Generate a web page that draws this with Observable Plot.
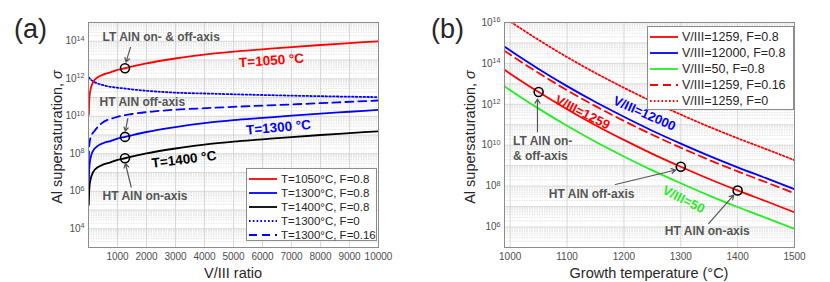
<!DOCTYPE html>
<html><head><meta charset="utf-8">
<script src="https://cdn.jsdelivr.net/npm/d3@7"></script>
<script src="https://cdn.jsdelivr.net/npm/@observablehq/plot@0.6"></script>
<style>
body{margin:0;background:#fff;font-family:"Liberation Sans",Arial,sans-serif;}
#wrap{position:relative;width:830px;height:282px;overflow:hidden;}
#wrap svg{position:absolute;top:0;}
.plabel{position:absolute;font-size:27px;line-height:27px;color:#262626;}
.xlab{position:absolute;font-size:14.5px;line-height:16px;color:#262626;text-align:center;white-space:nowrap;}
.ylab{position:absolute;font-size:14.5px;line-height:16px;color:#262626;white-space:nowrap;transform:translate(-50%,-50%) rotate(-90deg);}
.legend{position:absolute;background:#fff;border:1px solid #8c8c8c;color:#262626;box-sizing:border-box;}
.lrow{position:absolute;left:0;white-space:nowrap;display:flex;align-items:center;}
.lrow svg{position:static !important;}
</style></head>
<body><div id="wrap"></div>
<script>
// ---------- Panel (a): sigma vs V/III ratio (values are log10 sigma) ----------
const ratioA = [10, 25, 50, 90, 150, 320, 500, 780, 1000, 1259, 2000, 3000, 4200, 5000, 6000, 7000, 8000, 9000, 10000];
const logSigmaT1050 = [10.08, 10.84, 11.25, 11.55, 11.8, 12.08, 12.22, 12.35, 12.47, 12.56, 12.82, 13.08, 13.33, 13.45, 13.57, 13.69, 13.8, 13.9, 14.0];
const logSigmaT1300 = [6.42, 7.18, 7.59, 7.89, 8.14, 8.42, 8.56, 8.69, 8.81, 8.9, 9.16, 9.42, 9.67, 9.79, 9.91, 10.03, 10.14, 10.24, 10.34];
const logSigmaT1400 = [5.28, 6.04, 6.45, 6.75, 7.0, 7.28, 7.42, 7.55, 7.67, 7.76, 8.02, 8.28, 8.53, 8.65, 8.77, 8.89, 9.0, 9.1, 9.2];
const ratioF016 = [5, 30, 80, 200, 450, 900, 1500, 2200, 4300, 7000, 10000];
const logSigmaT1300F016 = [7.7, 8.5, 8.9, 9.2, 9.62, 9.92, 10.12, 10.25, 10.45, 10.63, 10.84];
const ratioF0 = [10, 100, 210, 550, 1240, 2720, 4340, 7000, 10000];
const logSigmaT1300F0 = [12.07, 11.93, 11.82, 11.64, 11.48, 11.28, 11.2, 11.1, 11.02];
const xTicksA = [1000, 2000, 3000, 4000, 5000, 6000, 7000, 8000, 9000, 10000];
const yTicksA = [1e4, 1e6, 1e8, 1e10, 1e12, 1e14];
const circleRatioA = [1259, 1259, 1259];
const circleLogA = [12.56, 8.9, 7.76];
const legendLabelsA = ["T=1050°C, F=0.8", "T=1300°C, F=0.8", "T=1400°C, F=0.8", "T=1300°C, F=0", "T=1300°C, F=0.16"];
const legendColorsA = ["#ff0000", "#0000ff", "#000000", "#0000ff", "#0000ff"];
const legendDashA = [null, null, null, "1.6 2.2", "8 5"];
// annotations (data coordinates)
const noteTextA = ["LT AlN on- & off-axis", "HT AlN off-axis", "HT AlN on-axis"];
const noteRatioA = [483, 380, 483];
const noteLogA = [14.2, 10.73, 5.72];
const tempTextA = ["T=1050 °C", "T=1300 °C", "T=1400 °C"];
const tempColorA = ["#ff0000", "#0000ff", "#000000"];
const tempRatioA = [6310, 6550, 3293];
const tempLogA = [12.97, 9.4, 7.69];
const tempRotA = [-4, -5, -7];
const arrowA = {r1: [1448, 1355, 1472], l1: [13.67, 9.88, 6.22], r2: [1293, 1272, 1272], l2: [12.89, 9.21, 7.48]};

// ---------- Panel (b): sigma vs growth temperature ----------
const tempB = [990, 1000, 1050, 1100, 1150, 1200, 1250, 1300, 1350, 1400, 1450, 1500];
const logSigma1259 = [13.69, 13.5, 12.6, 11.76, 10.98, 10.26, 9.58, 8.95, 8.35, 7.79, 7.26, 6.72];
const logSigma12000 = [14.82, 14.63, 13.73, 12.89, 12.11, 11.39, 10.71, 10.08, 9.48, 8.92, 8.39, 7.85];
const logSigma50 = [12.88, 12.69, 11.79, 10.95, 10.17, 9.45, 8.77, 8.14, 7.54, 6.98, 6.45, 5.91];
const logSigma1259F016 = [14.62, 14.43, 13.53, 12.69, 11.91, 11.19, 10.51, 9.88, 9.28, 8.72, 8.19, 7.65];
const logSigma1259F0 = [16.24, 16.05, 15.15, 14.31, 13.53, 12.81, 12.13, 11.5, 10.9, 10.34, 9.81, 9.27];
const xTicksB = [1000, 1100, 1200, 1300, 1400, 1500];
const yTicksB = [1e6, 1e8, 1e10, 1e12, 1e14, 1e16];
const circleTempB = [1050, 1300, 1400];
const circleLogB = [12.6, 8.95, 7.79];
const legendLabelsB = ["V/III=1259, F=0.8", "V/III=12000, F=0.8", "V/III=50, F=0.8", "V/III=1259, F=0.16", "V/III=1259, F=0"];
const legendColorsB = ["#ff0000", "#0000ff", "#22ee22", "#ff0000", "#ff0000"];
const legendDashB = [null, null, null, "8 5", "1.6 2.2"];
const noteTextB = ["LT AlN on-\n& off-axis", "HT AlN off-axis", "HT AlN on-axis"];
const noteTempB = [1005, 1068, 1272];
const noteLogB = [9.89, 7.64, 5.83];
const ratioTextB = ["V/III=1259", "V/III=12000", "V/III=50"];
const ratioColorB = ["#ff0000", "#0000ff", "#22ee22"];
const ratioTempB = [1127, 1236, 1305];
const ratioLogB = [11.6, 11.55, 7.34];
const ratioRotB = [27, 24, 27];
const arrowB = {t1: [1048, 1185, 1349], l1: [10.66, 8.08, 6.17], t2: [1048, 1291, 1393], l2: [12.26, 8.79, 7.56]};

const FONT = "Liberation Sans, Arial, sans-serif";
const GRAY = "#555555";
const pts = (xs, ls) => xs.map((x, i) => ({x, y: 10 ** ls[i]}));
function minorGrid(lo, hi) {
  const out = [];
  for (let e = lo; e < hi; e++) for (let k = 2; k <= 9; k++) out.push(k * 10 ** e);
  return out;
}
function majorGrid(lo, hi) { return d3.range(lo, hi + 1).map(e => 10 ** e); }
const supFmt = d => "10^" + Math.round(Math.log10(d));
function superscriptTicks(svg) {
  d3.select(svg).selectAll('g[aria-label="y-axis tick label"] text').each(function () {
    const t = this.textContent;
    if (!t.includes("^")) return;
    const [b, e] = t.split("^");
    const s = d3.select(this);
    s.text(b);
    s.append("tspan").attr("dy", "-0.5em").attr("font-size", "0.72em").text(e);
  });
}
const lineStyle = (stroke, dash) => ({x: "x", y: "y", stroke, strokeWidth: 1.8, curve: "monotone-x", strokeDasharray: dash || undefined, clip: true});

const wrap = document.getElementById("wrap");

// ---------- build panel (a) ----------
const svgA = Plot.plot({
  width: 410, height: 282,
  marginLeft: 88, marginRight: 32, marginTop: 22, marginBottom: 35,
  x: {domain: [0, 10000]},
  y: {type: "log", domain: [1e3, 1e15]},
  style: {fontFamily: FONT, fontSize: "10px", color: "#4d4d4d", background: "transparent"},
  marks: [
    Plot.ruleY(minorGrid(3, 15), {stroke: "#d8d8d8", strokeWidth: 0.7, strokeDasharray: "1.5 1"}),
    Plot.ruleY(majorGrid(3, 15), {stroke: "#cfcfcf", strokeWidth: 0.8}),
    Plot.ruleX(xTicksA, {stroke: "#cfcfcf", strokeWidth: 0.8}),
    Plot.axisX({ticks: xTicksA, tickSize: 0, tickPadding: 5, label: null, tickFormat: d => String(d)}),
    Plot.axisY({ticks: yTicksA, tickSize: 0, tickPadding: 4, label: null, tickFormat: supFmt}),
    Plot.line(pts(ratioF0, logSigmaT1300F0), lineStyle("#0000ff", "1.6 2.2")),
    Plot.line(pts(ratioF016, logSigmaT1300F016), lineStyle("#0000ff", "8 5")),
    Plot.line(pts(ratioA, logSigmaT1400), lineStyle("#000000")),
    Plot.line(pts(ratioA, logSigmaT1300), lineStyle("#0000ff")),
    Plot.line(pts(ratioA, logSigmaT1050), lineStyle("#ff0000")),
    Plot.dot(pts(circleRatioA, circleLogA), {x: "x", y: "y", r: 4.5, fill: "none", stroke: "#000", strokeWidth: 1.6}),
    Plot.arrow(d3.range(3), {x1: i => arrowA.r1[i], y1: i => 10 ** arrowA.l1[i], x2: i => arrowA.r2[i], y2: i => 10 ** arrowA.l2[i], stroke: "#555", strokeWidth: 1.2, headLength: 6}),
    Plot.text(d3.range(3), {x: i => noteRatioA[i], y: i => 10 ** noteLogA[i], text: i => noteTextA[i], textAnchor: "start", fontSize: 12, fontWeight: "bold", fill: GRAY, fontFamily: FONT}),
    Plot.text(d3.range(3), {x: i => tempRatioA[i], y: i => 10 ** tempLogA[i], text: i => tempTextA[i], rotate: i => tempRotA[i], fontSize: 13.5, fontWeight: "bold", fill: i => tempColorA[i], fontFamily: FONT}),
    Plot.frame({stroke: "#8c8c8c", strokeWidth: 1})
  ]
});
svgA.style.left = "0px";
superscriptTicks(svgA);
wrap.appendChild(svgA);

// ---------- build panel (b) ----------
const svgB = Plot.plot({
  width: 420, height: 282,
  marginLeft: 94, marginRight: 36, marginTop: 22, marginBottom: 35,
  x: {domain: [990, 1500]},
  y: {type: "log", domain: [1e5, 1e16]},
  style: {fontFamily: FONT, fontSize: "10px", color: "#4d4d4d", background: "transparent"},
  marks: [
    Plot.ruleY(minorGrid(5, 16), {stroke: "#d8d8d8", strokeWidth: 0.7, strokeDasharray: "1.5 1"}),
    Plot.ruleY(majorGrid(5, 16), {stroke: "#cfcfcf", strokeWidth: 0.8}),
    Plot.ruleX(xTicksB, {stroke: "#cfcfcf", strokeWidth: 0.8}),
    Plot.axisX({ticks: xTicksB, tickSize: 0, tickPadding: 5, label: null, tickFormat: d => String(d)}),
    Plot.axisY({ticks: yTicksB, tickSize: 0, tickPadding: 4, label: null, tickFormat: supFmt}),
    Plot.line(pts(tempB, logSigma1259F0), lineStyle("#ff0000", "1.6 2.2")),
    Plot.line(pts(tempB, logSigma1259F016), lineStyle("#ff0000", "8 5")),
    Plot.line(pts(tempB, logSigma50), lineStyle("#22ee22")),
    Plot.line(pts(tempB, logSigma12000), lineStyle("#0000ff")),
    Plot.line(pts(tempB, logSigma1259), lineStyle("#ff0000")),
    Plot.dot(pts(circleTempB, circleLogB), {x: "x", y: "y", r: 4.5, fill: "none", stroke: "#000", strokeWidth: 1.6}),
    Plot.arrow(d3.range(3), {x1: i => arrowB.t1[i], y1: i => 10 ** arrowB.l1[i], x2: i => arrowB.t2[i], y2: i => 10 ** arrowB.l2[i], stroke: "#555", strokeWidth: 1.2, headLength: 6}),
    Plot.text(d3.range(3), {x: i => noteTempB[i], y: i => 10 ** noteLogB[i], text: i => noteTextB[i], textAnchor: "start", lineHeight: 1.25, fontSize: 12, fontWeight: "bold", fill: GRAY, fontFamily: FONT}),
    Plot.text(d3.range(3), {x: i => ratioTempB[i], y: i => 10 ** ratioLogB[i], text: i => ratioTextB[i], rotate: i => ratioRotB[i], fontSize: 13, fontWeight: "bold", fill: i => ratioColorB[i], fontFamily: FONT}),
    Plot.frame({stroke: "#8c8c8c", strokeWidth: 1})
  ]
});
svgB.style.left = "410px";
superscriptTicks(svgB);
wrap.appendChild(svgB);

// ---------- labels ----------
function addDiv(cls, html, css) {
  const d = document.createElement("div");
  d.className = cls; d.innerHTML = html;
  Object.assign(d.style, css);
  wrap.appendChild(d);
  return d;
}
addDiv("plabel", "(a)", {left: "14px", top: "16px"});
addDiv("plabel", "(b)", {left: "431px", top: "16px"});
addDiv("xlab", "V/III ratio", {left: "133px", width: "200px", top: "265px"});
addDiv("xlab", "Growth temperature (°C)", {left: "549px", width: "200px", top: "265px"});
addDiv("ylab", "Al supersaturation, <i>σ</i>", {left: "57px", top: "137px"});
addDiv("ylab", "Al supersaturation, <i>σ</i>", {left: "470px", top: "137px"});

function legend(labels, colors, dashes, box, rowTop, rowStep, fontSize) {
  const lg = addDiv("legend", "", {left: box.x + "px", top: box.y + "px", width: box.w + "px", height: box.h + "px"});
  labels.forEach((lab, i) => {
    const row = document.createElement("div");
    row.className = "lrow";
    row.style.top = (rowTop + i * rowStep - 8) + "px";
    row.style.height = "16px";
    row.style.fontSize = fontSize + "px";
    const s = d3.create("svg").attr("width", 32).attr("height", 16);
    s.append("line").attr("x1", 2).attr("x2", 30).attr("y1", 8).attr("y2", 8)
      .attr("stroke", colors[i]).attr("stroke-width", 1.8)
      .attr("stroke-dasharray", dashes[i]);
    row.appendChild(s.node());
    const t = document.createElement("span");
    t.textContent = lab; t.style.marginLeft = "2px";
    row.appendChild(t);
    lg.appendChild(row);
  });
}
legend(legendLabelsA, legendColorsA, legendDashA, {x: 246, y: 168, w: 131, h: 73}, 10, 14, 11.5);
legend(legendLabelsB, legendColorsB, legendDashB, {x: 647, y: 26, w: 147, h: 84}, 10, 16, 12.5);
</script>
</body></html>
